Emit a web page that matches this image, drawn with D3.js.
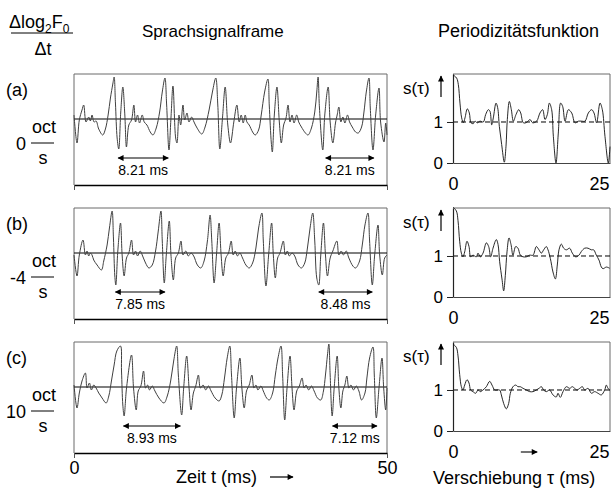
<!DOCTYPE html>
<html>
<head>
<meta charset="utf-8">
<script src="https://cdn.jsdelivr.net/npm/d3@7"></script>
<style>
body { margin: 0; background: #fff; }
svg { display: block; font-family: "Liberation Sans", Arial, sans-serif; }
</style>
</head>
<body>
<svg id="chart" width="611" height="489"></svg>
<script>
"use strict";
var width = 611;
var height = 489;

// labels
var panelLabels = ["(a)", "(b)", "(c)"];
var rateLabels = ["0", "-4", "10"];
var timeTicks = [0, 50];
var lagTicks = [0, 25];
var levelTicks = [0, 1];

// measured period spans [from ms, to ms, label]
var spansA = [[7.05, 15.06, "8.21 ms"], [40.2, 47.9, "8.21 ms"]];
var spansB = [[6.62, 14.53, "7.85 ms"], [39.1, 47.65, "8.48 ms"]];
var spansC = [[7.9, 17.0, "8.93 ms"], [41.3, 48.4, "7.12 ms"]];

// speech frames [t ms, amplitude]
var signalA = [[0,4],[0.48,-24],[0.85,-1],[1.28,9],[1.55,14],[1.92,-3],[2.35,2],[2.62,-2],[2.88,4],[3.21,-3],[3.53,-2],[3.95,-10],[4.59,-16],[5.02,-10],[5.45,4],[5.82,21],[6.2,35],[6.41,42],[6.62,16],[6.89,-19],[7.15,-30],[7.47,7],[7.8,32],[8.12,4],[8.38,-28],[8.76,-6],[9.19,-1],[9.56,14],[9.83,-3],[10.15,4],[10.47,-4],[10.9,4],[11.22,-3],[11.65,-6],[12.18,-13],[12.61,-16],[13.14,-9],[13.68,7],[14.1,27],[14.53,41],[14.8,14],[15.17,-31],[15.49,1],[15.81,33],[16.24,-19],[16.45,-24],[16.77,4],[17.04,-6],[17.41,14],[17.68,-1],[18.05,6],[18.37,-3],[18.8,2],[19.17,-3],[19.66,-9],[20.41,-15],[20.94,-8],[21.58,9],[22.11,27],[22.65,41],[22.97,14],[23.29,-30],[23.72,1],[24.15,32],[24.57,-6],[25.0,-24],[25.53,-3],[26.02,14],[26.39,-3],[26.71,4],[27.03,-4],[27.35,4],[27.62,-3],[27.99,-6],[28.53,-13],[28.95,-16],[29.49,-11],[29.91,4],[30.45,27],[30.98,40],[31.19,14],[31.52,-24],[31.68,-33],[32.0,4],[32.42,32],[32.8,-3],[33.12,-24],[33.49,-6],[33.87,1],[34.19,14],[34.51,-3],[34.83,4],[35.15,-4],[35.58,4],[35.9,-3],[36.33,-8],[36.97,-14],[37.39,-16],[37.93,-9],[38.46,7],[38.78,27],[38.99,42],[39.21,11],[39.74,-31],[40.06,4],[40.6,32],[40.92,-3],[41.35,-24],[41.77,-4],[42.04,4],[42.31,12],[42.63,-3],[42.95,2],[43.27,-4],[43.7,4],[44.02,-3],[44.45,-8],[44.98,-13],[45.41,-14],[45.94,-8],[46.32,7],[46.69,27],[47.12,41],[47.33,11],[47.76,-31],[48.19,4],[48.72,31],[48.98,-3],[49.52,-23],[49.79,-4],[50,-16]];
var signalB = [[0,-2],[0.48,-23],[0.85,-2],[1.44,13],[1.82,-2],[2.08,2],[2.35,-3],[2.62,0],[2.88,-2],[3.15,-7],[3.69,-12],[4.38,-17],[4.75,-8],[5.29,8],[5.66,25],[6.09,42],[6.3,15],[6.52,-23],[6.68,-32],[7.0,2],[7.43,30],[7.69,-2],[8.01,-23],[8.39,-5],[8.76,0],[9.19,13],[9.51,-2],[9.83,2],[10.15,-3],[10.58,2],[10.9,-2],[11.43,-10],[11.97,-15],[12.5,-12],[13.03,2],[13.46,22],[13.89,42],[14.1,12],[14.42,-30],[14.74,-2],[15.22,32],[15.49,-2],[15.87,-27],[16.24,-5],[16.67,0],[17.09,12],[17.41,-2],[17.84,2],[18.27,-3],[18.7,0],[19.12,-3],[19.71,-12],[20.25,-15],[20.78,-8],[21.31,12],[21.74,38],[22.01,12],[22.38,-30],[22.76,-2],[23.18,30],[23.5,-2],[23.83,-23],[24.25,-5],[24.68,0],[25.11,12],[25.43,-2],[25.75,2],[26.12,-3],[26.5,0],[26.92,-5],[27.46,-12],[27.99,-15],[28.53,-10],[29.06,5],[29.49,25],[30.02,40],[30.24,12],[30.66,-33],[31.09,-2],[31.57,30],[31.84,-2],[32.16,-25],[32.53,-5],[32.91,0],[33.44,12],[33.76,-2],[34.08,2],[34.4,-3],[34.83,0],[35.26,-3],[35.79,-12],[36.33,-15],[36.86,-10],[37.29,5],[37.71,25],[38.14,40],[38.46,12],[38.78,-25],[39.1,-32],[39.42,-2],[39.85,30],[40.17,-2],[40.49,-23],[40.92,-5],[41.35,2],[41.99,12],[42.31,-2],[42.68,2],[43.06,-2],[43.48,2],[43.91,-5],[44.55,-13],[44.98,-15],[45.62,-8],[46.05,8],[46.48,28],[46.96,40],[47.22,12],[47.65,-32],[48.03,-2],[48.56,28],[48.83,-2],[49.25,-22],[49.63,-5],[50,-2]];
var signalC = [[0,2],[0.48,-21],[0.85,-6],[1.28,6],[1.82,14],[2.08,-1],[2.46,4],[2.78,-3],[3.15,2],[3.53,-1],[3.95,-6],[4.49,-11],[5.13,-16],[5.56,-9],[5.98,6],[6.41,22],[6.84,36],[7.43,41],[7.59,16],[7.8,-18],[8.01,-29],[8.39,-1],[9.19,32],[9.51,-1],[9.94,-23],[10.26,-4],[10.68,1],[11.11,16],[11.43,-1],[11.75,2],[12.07,-3],[12.5,1],[12.93,-4],[13.57,-11],[14.37,-16],[14.9,-9],[15.44,6],[15.92,26],[16.4,41],[16.67,12],[17.2,-28],[17.52,-1],[18.0,31],[18.38,-1],[18.7,-23],[19.07,-6],[19.45,1],[19.87,12],[20.19,-1],[20.62,2],[21.05,-3],[21.47,1],[21.9,-4],[22.54,-11],[23.18,-14],[23.61,-8],[24.04,9],[24.47,29],[24.89,41],[25.16,12],[25.59,-31],[25.96,-1],[26.5,29],[26.82,-1],[27.19,-21],[27.56,-4],[27.99,2],[28.42,12],[28.74,-1],[29.06,2],[29.38,-3],[29.86,1],[30.24,-4],[30.77,-11],[31.2,-13],[31.73,-6],[32.16,12],[32.59,29],[33.07,41],[33.33,11],[33.66,-33],[34.03,-1],[34.51,31],[34.83,-1],[35.15,-23],[35.58,-4],[36.0,1],[36.43,9],[36.75,-1],[37.07,2],[37.5,-3],[37.93,1],[38.36,-4],[38.89,-11],[39.42,-13],[39.85,-4],[40.17,12],[40.49,32],[40.71,43],[40.92,12],[41.24,-29],[41.56,-1],[42.04,31],[42.31,-1],[42.63,-21],[42.95,-4],[43.27,2],[43.59,11],[43.91,-1],[44.23,2],[44.66,-3],[45.09,1],[45.51,-4],[45.94,-13],[46.48,-6],[46.79,9],[47.22,29],[47.76,40],[47.97,12],[48.29,-31],[48.72,-1],[49.2,29],[49.47,-1],[49.79,-23],[50,-1]];

// periodicity functions [tau ms, s]
var periodA = [[0,2.15],[0.58,2.07],[0.85,1.91],[1.11,1.46],[1.38,1.1],[1.65,0.98],[1.91,1.1],[2.28,1.32],[2.6,1.22],[2.87,0.98],[3.24,0.96],[3.5,1.02],[3.87,0.98],[4.3,1.02],[4.83,1.0],[5.2,1.18],[5.63,1.3],[5.89,1.26],[6.16,0.93],[6.42,1.1],[6.85,1.46],[7.11,1.35],[7.38,0.89],[7.75,0.45],[8.17,0.02],[8.44,0.41],[8.65,1.06],[8.97,1.5],[9.29,1.3],[9.61,1.02],[10.03,1.18],[10.46,1.3],[10.78,1.22],[11.2,0.98],[11.73,0.99],[12.26,1.06],[12.69,0.98],[13.32,1.02],[13.85,1.22],[14.28,1.3],[14.65,1.06],[15.02,1.18],[15.34,1.46],[15.71,1.3],[15.98,0.65],[16.4,0],[16.77,0.73],[17.14,1.46],[17.46,1.38],[17.84,1.02],[18.37,1.3],[18.9,1.22],[19.43,0.98],[19.96,1.02],[20.49,1.02],[21.02,1.02],[21.55,1.22],[22.08,1.3],[22.45,1.22],[22.87,0.98],[23.41,1.46],[23.78,1.3],[24.2,0.65],[24.73,0],[25,0.4]];
var periodB = [[0,2.19],[0.53,2.1],[0.8,1.86],[1.06,1.36],[1.33,1.07],[1.59,0.98],[1.86,1.1],[2.23,1.36],[2.55,1.23],[2.81,0.98],[3.18,1.02],[3.72,0.98],[3.98,1.07],[4.35,0.98],[4.78,1.07],[5.31,1.32],[5.68,1.23],[6.0,0.98],[6.37,1.19],[6.9,1.4],[7.17,1.28],[7.43,0.86],[7.8,0.44],[8.07,0.15],[8.33,0.52],[8.6,1.1],[8.92,1.44],[9.24,1.28],[9.55,1.02],[9.98,1.23],[10.35,1.19],[10.72,1.02],[11.15,0.98],[11.68,0.98],[12.21,1.02],[12.74,1.02],[13.27,1.23],[13.69,1.15],[14.07,1.07],[14.44,1.15],[14.86,1.23],[15.13,1.15],[15.5,0.94],[15.92,0.61],[16.3,0.44],[16.61,0.78],[16.88,1.15],[17.25,1.29],[17.62,1.19],[18.05,1.15],[18.58,1.19],[19.0,1.07],[19.53,0.98],[20.06,1.02],[20.44,1.11],[20.97,1.19],[21.5,1.19],[22.03,1.15],[22.4,1.15],[22.82,1.02],[23.25,0.9],[23.62,0.73],[23.89,0.69],[24.42,0.73],[24.95,0.7]];
var periodC = [[0,2.12],[0.53,2.04],[0.8,1.83],[1.06,1.38],[1.33,1.08],[1.59,1.0],[1.86,1.12],[2.23,1.25],[2.55,1.17],[2.81,1.0],[3.18,0.96],[3.61,0.92],[3.98,1.0],[4.35,0.96],[4.78,1.0],[5.31,1.08],[5.84,1.21],[6.21,1.12],[6.64,1.0],[7.01,1.0],[7.43,1.0],[7.7,0.88],[8.07,0.67],[8.49,0.54],[8.86,0.67],[9.13,0.92],[9.55,1.08],[9.98,1.12],[10.35,1.08],[10.72,1.08],[11.15,1.04],[11.68,1.0],[12.21,0.96],[12.74,0.96],[13.27,1.0],[13.69,1.04],[14.07,1.08],[14.44,1.0],[14.86,0.96],[15.39,1.0],[15.92,0.88],[16.45,0.83],[16.72,0.92],[17.09,0.82],[17.52,0.96],[18.05,1.08],[18.58,1.04],[19.0,1.08],[19.37,1.04],[19.75,1.0],[20.17,1.04],[20.6,1.08],[20.97,1.0],[21.5,1.04],[22.03,0.92],[22.56,0.96],[23.09,0.92],[23.62,0.88],[24.15,1.0],[24.42,1.12],[24.68,1.04],[24.95,1.0]];

var panels = [
    { signal: signalA, period: periodA, spans: spansA },
    { signal: signalB, period: periodB, spans: spansB },
    { signal: signalC, period: periodC, spans: spansC }
];

// layout
var panelTops = [74, 208, 342];
var frameHeight = 111;
var periodHeight = 89;

var svg = d3.select("#chart")
    .attr("viewBox", "0 0 " + width + " " + height);

var defs = svg.append("defs");
defs.append("marker")
    .attr("id", "head")
    .attr("viewBox", "0 0 10 10")
    .attr("refX", 9).attr("refY", 5)
    .attr("markerUnits", "userSpaceOnUse")
    .attr("markerWidth", 7).attr("markerHeight", 6)
    .attr("orient", "auto-start-reverse")
    .append("path")
    .attr("d", "M0,0L10,5L0,10z")
    .attr("fill", "#000");

var xT = d3.scaleLinear().domain([0, 50]).range([74, 387]);
var xL = d3.scaleLinear().domain([0, 25]).range([453, 610]);
var smooth = d3.curveCatmullRom.alpha(0.5);

// column headers
var hdr = svg.append("text").attr("x", 9).attr("y", 28).style("font-size", "18px");
hdr.append("tspan").text("\u0394log");
hdr.append("tspan").attr("dy", 5).style("font-size", "12px").text("2");
hdr.append("tspan").attr("dy", -5).text("F");
hdr.append("tspan").attr("dy", 5).style("font-size", "12px").text("0");
svg.append("line").attr("x1", 11).attr("x2", 73).attr("y1", 33).attr("y2", 33)
    .attr("stroke", "#000").attr("stroke-width", 1);
svg.append("text").attr("x", 43).attr("y", 55).attr("text-anchor", "middle")
    .style("font-size", "18px").text("\u0394t");
svg.append("text").attr("x", 142).attr("y", 37).style("font-size", "17px").text("Sprachsignalframe");
svg.append("text").attr("x", 438).attr("y", 37).style("font-size", "18px").text("Periodizitätsfunktion");

panels.forEach(function (p, i) {
    var top = panelTops[i];
    var yS = d3.scaleLinear().domain([-66, 45]).range([top + frameHeight, top]);
    var yP = d3.scaleLinear().domain([0, 2.17]).range([top + periodHeight, top]);
    var g = svg.append("g");

    // row labels
    g.append("text").attr("x", 6).attr("y", top + 22).style("font-size", "18px").text(panelLabels[i]);
    g.append("text").attr("x", 26).attr("y", top + 76).attr("text-anchor", "end")
        .style("font-size", "18px").text(rateLabels[i]);
    g.append("text").attr("x", 44).attr("y", top + 59).attr("text-anchor", "middle")
        .style("font-size", "18px").text("oct");
    g.append("line").attr("x1", 31).attr("x2", 54).attr("y1", top + 69).attr("y2", top + 69)
        .attr("stroke", "#000").attr("stroke-width", 1);
    g.append("text").attr("x", 43).attr("y", top + 90).attr("text-anchor", "middle")
        .style("font-size", "18px").text("s");

    // speech frame box
    g.append("path")
        .attr("d", "M" + xT(0) + "," + yS(-66) + "V" + yS(45) + "H" + xT(50) + "V" + yS(-66))
        .attr("fill", "none").attr("stroke", "#6a6a6a").attr("stroke-width", 1);
    g.append("line")
        .attr("x1", xT(0)).attr("x2", xT(50)).attr("y1", yS(0)).attr("y2", yS(0))
        .attr("stroke", "#000").attr("stroke-width", 1.2);
    g.append("path")
        .datum(p.signal)
        .attr("d", d3.line().curve(smooth).x(function (d) { return xT(d[0]); }).y(function (d) { return yS(d[1]); }))
        .attr("fill", "none").attr("stroke", "#404040").attr("stroke-width", 1)
        .attr("stroke-linejoin", "round");

    var ax = g.append("g")
        .attr("transform", "translate(0," + yS(-66) + ")")
        .call(d3.axisBottom(xT).tickValues(timeTicks).tickSize(5).tickSizeOuter(0).tickPadding(3)
            .tickFormat(i === 2 ? d3.format("d") : function () { return ""; }));
    ax.attr("font-family", null).attr("font-size", null);
    ax.select(".domain").attr("stroke", "#000").attr("stroke-width", 1.4);
    ax.selectAll(".tick line").attr("stroke", "#555");
    ax.selectAll(".tick text").style("font-size", "18px").attr("fill", "#000");

    // period spans
    p.spans.forEach(function (s) {
        g.append("line")
            .attr("x1", xT(s[0])).attr("x2", xT(s[1]))
            .attr("y1", top + 84).attr("y2", top + 84)
            .attr("stroke", "#000").attr("stroke-width", 1.2)
            .attr("marker-start", "url(#head)").attr("marker-end", "url(#head)");
        g.append("text")
            .attr("x", xT((s[0] + s[1]) / 2)).attr("y", top + 101)
            .attr("text-anchor", "middle").style("font-size", "14px").text(s[2]);
    });

    // periodicity panel
    g.append("path")
        .attr("d", "M" + xL(0) + "," + yP(2.17) + "H" + xL(25) + "V" + yP(0))
        .attr("fill", "none").attr("stroke", "#6a6a6a").attr("stroke-width", 1);
    g.append("line")
        .attr("x1", xL(0)).attr("x2", xL(25)).attr("y1", yP(1)).attr("y2", yP(1))
        .attr("stroke", "#000").attr("stroke-width", 1).attr("stroke-dasharray", "5,3");

    var ay = g.append("g")
        .attr("transform", "translate(" + xL(0) + ",0)")
        .call(d3.axisLeft(yP).tickValues(levelTicks).tickSize(6).tickSizeOuter(0).tickPadding(4)
            .tickFormat(d3.format("d")));
    ay.attr("font-family", null).attr("font-size", null);
    ay.select(".domain").attr("stroke", "#222").attr("stroke-width", 1.2);
    ay.selectAll(".tick line").attr("stroke", "#222");
    ay.selectAll(".tick text").style("font-size", "17px").attr("fill", "#000");

    var axl = g.append("g")
        .attr("transform", "translate(0," + yP(0) + ")")
        .call(d3.axisBottom(xL).tickValues(lagTicks).tickSize(0).tickSizeOuter(0).tickPadding(14)
            .tickFormat(d3.format("d")));
    axl.attr("font-family", null).attr("font-size", null);
    axl.select(".domain").attr("stroke", "#444").attr("stroke-width", 1.2);
    axl.selectAll(".tick text").style("font-size", "18px").attr("fill", "#000");
    axl.selectAll(".tick text").filter(function (d) { return d === 25; })
        .attr("text-anchor", "end").attr("dx", -1);

    g.append("path")
        .datum(p.period)
        .attr("d", d3.line().curve(smooth).x(function (d) { return xL(d[0]); }).y(function (d) { return yP(d[1]); }))
        .attr("fill", "none").attr("stroke", "#111").attr("stroke-width", 0.9)
        .attr("stroke-linejoin", "round");

    g.append("text").attr("x", 403).attr("y", top + 20).style("font-size", "17px").text("s(\u03C4)");
    g.append("line")
        .attr("x1", 441).attr("x2", 441).attr("y1", top + 23).attr("y2", top + 2)
        .attr("stroke", "#000").attr("stroke-width", 1.2).attr("marker-end", "url(#head)");

    if (i === 2) {
        g.append("line")
            .attr("x1", xL(10.8)).attr("x2", xL(13.4)).attr("y1", yP(0) + 21).attr("y2", yP(0) + 21)
            .attr("stroke", "#000").attr("stroke-width", 1.1).attr("marker-end", "url(#head)");
    }
});

// axis titles
svg.append("text").attr("x", 176).attr("y", 483).style("font-size", "18px").text("Zeit t (ms)");
svg.append("line").attr("x1", 270).attr("x2", 293).attr("y1", 477).attr("y2", 477)
    .attr("stroke", "#000").attr("stroke-width", 1.2).attr("marker-end", "url(#head)");
svg.append("text").attr("x", 433).attr("y", 484).style("font-size", "18px").text("Verschiebung \u03C4 (ms)");
</script>
</body>
</html>
